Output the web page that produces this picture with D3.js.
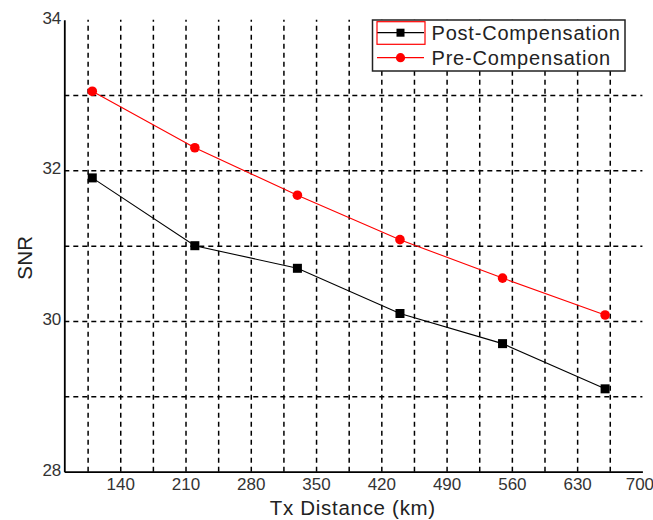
<!DOCTYPE html>
<html>
<head>
<meta charset="utf-8">
<script src="https://cdn.jsdelivr.net/npm/d3@7"></script>
<style>
  html, body { margin: 0; padding: 0; background: #fff; }
  svg text { font-family: "Liberation Sans", Arial, sans-serif; }
</style>
</head>
<body>
<svg id="chart" width="653" height="520"></svg>
<script>
// ---- data ----
const distances = [110, 220, 330, 440, 550, 660];
const postComp = [31.9, 31.0, 30.7, 30.1, 29.7, 29.1];
const preComp  = [33.05, 32.3, 31.67, 31.08, 30.57, 30.08];
const seriesNames = ["Post-Compensation", "Pre-Compensation"];
const xTickLabels = [140, 210, 280, 350, 420, 490, 560, 630, 700];
const xGridValues = [105, 140, 175, 210, 245, 280, 315, 350, 385, 420, 455, 490, 525, 560, 595, 630, 665];
const yTickLabels = [28, 30, 32, 34];
const yGridValues = [29, 30, 31, 32, 33];

(function () {
const svg = d3.select("#chart");
const pLeft = 64.3, pRight = 642.4, pTop = 19.7, pBottom = 471.7;

const x = d3.scaleLinear().domain([80, 700]).range([pLeft, pRight]);
const y = d3.scaleLinear().domain([28, 34]).range([pBottom, pTop]);

// grid lines
const gx = svg.append("g").attr("transform", `translate(0,${pBottom})`)
  .call(d3.axisBottom(x).tickValues(xGridValues).tickSize(-(pBottom - pTop)).tickFormat(""));
gx.select(".domain").remove();
gx.selectAll("line").attr("stroke", "#000").attr("stroke-width", 1.5).attr("stroke-dasharray", "5,4");

const gy = svg.append("g").attr("transform", `translate(${pLeft},0)`)
  .call(d3.axisLeft(y).tickValues(yGridValues).tickSize(-(pRight - pLeft)).tickFormat(""));
gy.select(".domain").remove();
gy.selectAll("line").attr("stroke", "#000").attr("stroke-width", 1.5).attr("stroke-dasharray", "5,4");

// axes
const ax = svg.append("g").attr("transform", `translate(0,${pBottom})`)
  .call(d3.axisBottom(x).tickValues(xTickLabels).tickSize(0).tickPadding(6).tickFormat(d3.format("d")));
ax.select(".domain").attr("stroke", "#000").attr("stroke-width", 1.8);
ax.selectAll("text").attr("font-size", 17).attr("fill", "#333").attr("font-family", "Liberation Sans, Arial, sans-serif");
ax.selectAll(".tick text").filter(d => d === 700).attr("dx", -3);

const ay = svg.append("g").attr("transform", `translate(${pLeft},0)`)
  .call(d3.axisLeft(y).tickValues(yTickLabels).tickSize(0).tickPadding(3).tickFormat(d3.format("d")));
ay.select(".domain").attr("stroke", "#000").attr("stroke-width", 1.8);
ay.selectAll("text").attr("font-size", 17).attr("fill", "#333").attr("font-family", "Liberation Sans, Arial, sans-serif");
ay.selectAll(".tick text").attr("dy", "0.2em");

// axis titles
svg.append("text").attr("x", (pLeft + pRight) / 2 - 0.5).attr("y", 515)
  .attr("text-anchor", "middle").attr("font-size", 20.5).attr("letter-spacing", 0.7)
  .attr("fill", "#222").text("Tx Distance (km)");
svg.append("text").attr("transform", `translate(32,${(pTop + pBottom) / 2 + 12}) rotate(-90)`)
  .attr("text-anchor", "middle").attr("font-size", 20.5).attr("letter-spacing", 0.3)
  .attr("fill", "#222").text("SNR");

// lines
const line = d3.line().x((d, i) => x(distances[i])).y(d => y(d));
svg.append("path").datum(postComp).attr("d", line).attr("fill", "none").attr("stroke", "#000").attr("stroke-width", 1.1);
svg.append("path").datum(preComp).attr("d", line).attr("fill", "none").attr("stroke", "#ff0000").attr("stroke-width", 1.1);

const sq = 9;
svg.append("g").selectAll("rect").data(postComp).join("rect")
  .attr("x", (d, i) => x(distances[i]) - sq / 2).attr("y", d => y(d) - sq / 2)
  .attr("width", sq).attr("height", sq).attr("fill", "#000");
svg.append("g").selectAll("circle").data(preComp).join("circle")
  .attr("cx", (d, i) => x(distances[i])).attr("cy", d => y(d)).attr("r", 4.8).attr("fill", "#ff0000");

// legend
const lg = svg.append("g");
lg.append("rect").attr("x", 372.5).attr("y", 20).attr("width", 252.5).attr("height", 51)
  .attr("fill", "#fff").attr("stroke", "#222").attr("stroke-width", 1.5);
const rows = [
  { name: seriesNames[0], color: "#000", marker: "square", cy: 32.7 },
  { name: seriesNames[1], color: "#ff0000", marker: "circle", cy: 57.7 }
];
rows.forEach(r => {
  lg.append("line").attr("x1", 377).attr("x2", 424).attr("y1", r.cy).attr("y2", r.cy)
    .attr("stroke", r.color).attr("stroke-width", 1.2);
  if (r.marker === "square") {
    lg.append("rect").attr("x", 400.5 - 4).attr("y", r.cy - 4).attr("width", 8).attr("height", 8).attr("fill", r.color);
  } else {
    lg.append("circle").attr("cx", 400.5).attr("cy", r.cy).attr("r", 4.6).attr("fill", r.color);
  }
  lg.append("text").attr("x", 431.5).attr("y", r.cy + 7.3).attr("font-size", 20).attr("letter-spacing", 0.8)
    .attr("fill", "#222").text(r.name);
});
// selection highlight around first legend sample
lg.append("rect").attr("x", 377).attr("y", 21.7).attr("width", 48).attr("height", 22.6)
  .attr("fill", "none").attr("stroke", "#ff0000").attr("stroke-width", 1.2);
})();
</script>
</body>
</html>
